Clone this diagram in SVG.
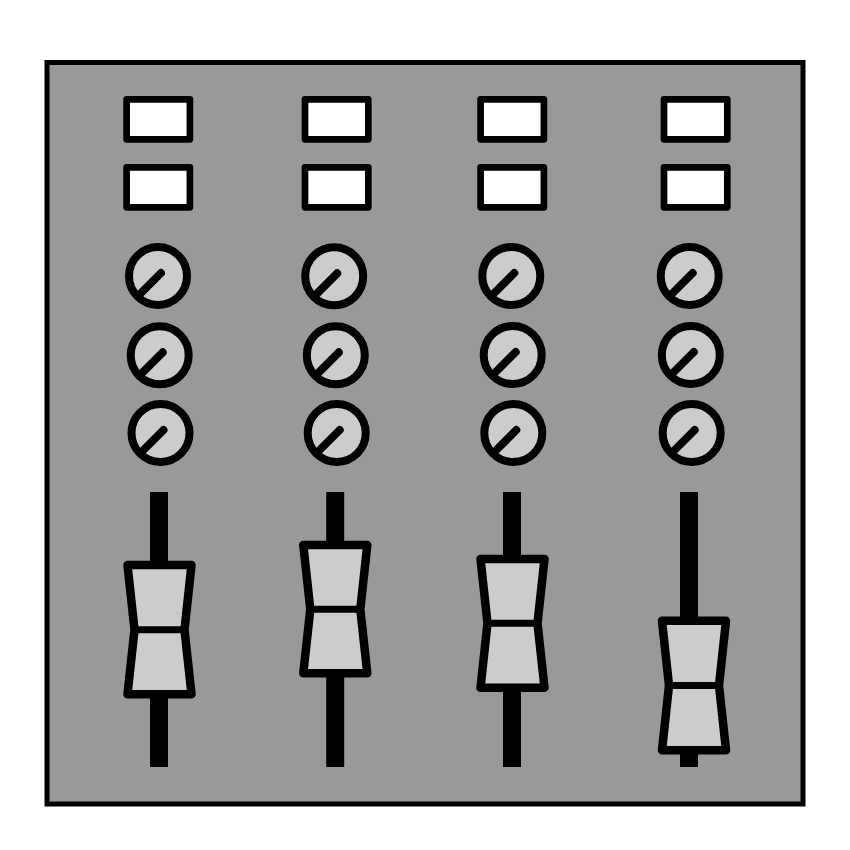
<svg xmlns="http://www.w3.org/2000/svg" width="850" height="850" viewBox="0 0 850 850">
  <defs>
    <style>
      .panel { fill: #999999; stroke: #000000; stroke-width: 5; }
      .disp { fill: #ffffff; stroke: #000000; stroke-width: 6.7; stroke-linejoin: round; }
      .knob { fill: #cccccc; stroke: #000000; stroke-width: 8; }
      .ind { stroke: #000000; stroke-width: 8; stroke-linecap: round; }
      .track { fill: #000000; }
      .cap { fill: #cccccc; stroke: #000000; stroke-width: 8.5; stroke-linejoin: round; }
      .mid { stroke: #000000; stroke-width: 7; }
    </style>
    <g id="knobShape">
      <circle cx="0" cy="0" r="29" class="knob"/>
      <line x1="3" y1="-3" x2="-19" y2="19" class="ind"/>
    </g>
    <g id="dispShape">
      <rect x="-31.7" y="0" width="63.3" height="40" class="disp"/>
    </g>
  </defs>
  <rect id="panel" x="47" y="62.5" width="756" height="741.5" class="panel"/>

  <g id="channel1">
    <use href="#dispShape" x="158.3" y="99.3"/>
    <use href="#dispShape" x="158.3" y="167.3"/>
    <use href="#knobShape" x="158" y="276"/>
    <use href="#knobShape" x="159.7" y="355.3"/>
    <use href="#knobShape" x="160.5" y="433"/>
    <rect class="track" x="150" y="492" width="18" height="275"/>
    <polygon class="cap" points="127.5,565 191.5,565 184.5,629.7 191.5,694.3 127.5,694.3 134.5,629.7"/>
    <line class="mid" x1="134.5" y1="629.7" x2="184.5" y2="629.7"/>
  </g>

  <g id="channel2">
    <use href="#dispShape" x="336.7" y="99.3"/>
    <use href="#dispShape" x="336.7" y="167.3"/>
    <use href="#knobShape" x="334.2" y="276.3"/>
    <use href="#knobShape" x="335.8" y="355.3"/>
    <use href="#knobShape" x="336.7" y="433"/>
    <rect class="track" x="326.2" y="492" width="18" height="275"/>
    <polygon class="cap" points="303.3,545 367.3,545 360.3,609.2 367.3,673.3 303.3,673.3 310.3,609.2"/>
    <line class="mid" x1="310.3" y1="609.2" x2="360.3" y2="609.2"/>
  </g>

  <g id="channel3">
    <use href="#dispShape" x="512.3" y="99.3"/>
    <use href="#dispShape" x="512.3" y="167.3"/>
    <use href="#knobShape" x="511.3" y="276"/>
    <use href="#knobShape" x="512.7" y="355"/>
    <use href="#knobShape" x="513.3" y="433"/>
    <rect class="track" x="503" y="492" width="18" height="275"/>
    <polygon class="cap" points="480.5,559 544.5,559 537.5,623.3 544.5,687.7 480.5,687.7 487.5,623.3"/>
    <line class="mid" x1="487.5" y1="623.3" x2="537.5" y2="623.3"/>
  </g>

  <g id="channel4">
    <use href="#dispShape" x="695.7" y="99.3"/>
    <use href="#dispShape" x="695.7" y="167.3"/>
    <use href="#knobShape" x="689.7" y="276"/>
    <use href="#knobShape" x="690.8" y="355"/>
    <use href="#knobShape" x="691.7" y="433"/>
    <rect class="track" x="680" y="492" width="18" height="275"/>
    <polygon class="cap" points="662,620.7 726,620.7 719,685.5 726,750.3 662,750.3 669,685.5"/>
    <line class="mid" x1="669" y1="685.5" x2="719" y2="685.5"/>
  </g>

  <g id="connectors"></g>
</svg>
